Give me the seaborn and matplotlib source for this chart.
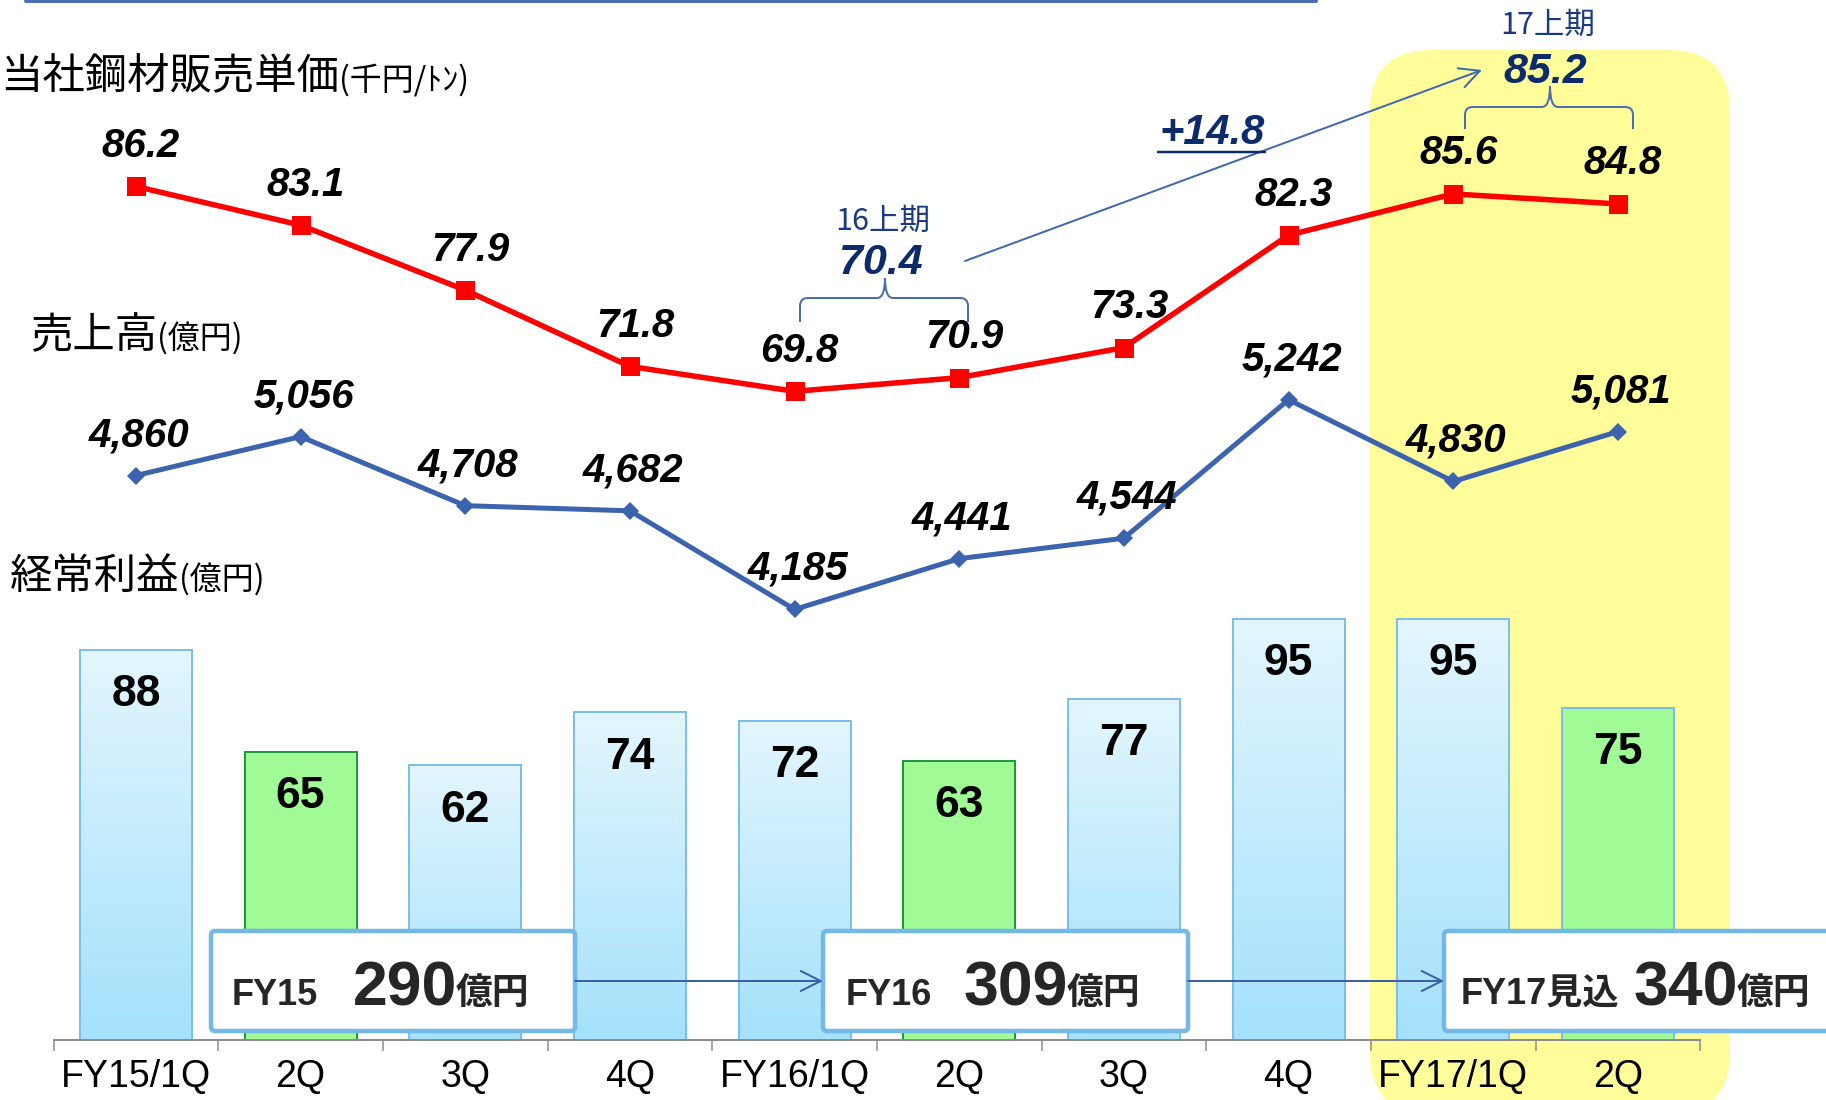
import numpy as np
import pandas as pd
import matplotlib
matplotlib.use("Agg")
import matplotlib.pyplot as plt
import seaborn as sns
from matplotlib.colors import LinearSegmentedColormap
from matplotlib.lines import Line2D
from matplotlib.patches import FancyBboxPatch, PathPatch
from matplotlib.path import Path
from matplotlib.transforms import Affine2D

# ---------------- data ----------------
quarter_labels = ["FY15/1Q", "2Q", "3Q", "4Q", "FY16/1Q", "2Q", "3Q", "4Q", "FY17/1Q", "2Q"]
steel_price = [86.2, 83.1, 77.9, 71.8, 69.8, 70.9, 73.3, 82.3, 85.6, 84.8]    # 千円/ﾄﾝ
net_sales = [4860, 5056, 4708, 4682, 4185, 4441, 4544, 5242, 4830, 5081]      # 億円
ordinary_profit = [88, 65, 62, 74, 72, 63, 77, 95, 95, 75]                   # 億円
half_year_names = ["16上期", "17上期"]
half_year_price = [70.4, 85.2]
fy_names = ["FY15", "FY16", "FY17見込"]
fy_profit = [290, 309, 340]

W, H = 1826, 1100
sns.set_theme(style="white")
plt.rcParams["font.family"] = ["Liberation Sans", "Noto Sans CJK JP", "DejaVu Sans"]
CJK = ["Noto Sans CJK JP", "Liberation Sans", "DejaVu Sans"]


def pt(p):
    """pixels -> points at 100 dpi"""
    return p * 0.72


fig = plt.figure(figsize=(W / 100, H / 100), dpi=100)
fig.patch.set_facecolor("white")
# pixel coordinates, origin at the top-left corner of the figure
px = Affine2D().scale(1 / W, -1 / H).translate(0, 1) + fig.transFigure

ax = fig.add_axes([53.6 / W, 60 / H, (1700.2 - 53.6) / W, 1040 / H])
ax.set_facecolor("none")

df = pd.DataFrame({
    "pos": np.arange(len(quarter_labels)),
    "key": [f"k{i}" for i in range(len(quarter_labels))],
    "quarter": quarter_labels,
    "price": steel_price,
    "sales": net_sales,
    "profit": ordinary_profit,
})

GREEN = "#A0FA96"
SKY = "#C8EDFC"
forecast_start = 8
is_green = [q == "2Q" for q in quarter_labels]
palette = {k: (GREEN if g else SKY) for k, g in zip(df["key"], is_green)}

# highlighted current fiscal year
ax.add_patch(FancyBboxPatch((1370, 50), 360, 1064,
                            boxstyle="round,pad=0,rounding_size=62",
                            transform=px, fc="#FFFD9A", ec="none",
                            zorder=0, clip_on=False))

# ---------------- ordinary profit bars ----------------
sns.barplot(data=df, x="pos", y="profit", hue="key", palette=palette,
            native_scale=True, dodge=False, legend=False, width=0.68,
            saturation=1, ax=ax, zorder=2)

bars = sorted([p for p in ax.patches if hasattr(p, "get_width") and p.get_height() > 0
               and p.get_width() < 1], key=lambda p: p.get_x())
grad_cmap = LinearSegmentedColormap.from_list("sky", ["#A4E1FB", "#E3F6FE"])
for i, bar in enumerate(bars):
    bar.set_linewidth(pt(2))
    if is_green[i]:
        bar.set_edgecolor("#7CBDE6" if i >= forecast_start else "#1E9A3D")
    else:
        bar.set_edgecolor("#7CC0EA")
        bar.set_facecolor("none")
        x0, y0 = bar.get_x(), bar.get_y()
        im = ax.imshow(np.linspace(0, 1, 256).reshape(-1, 1),
                       extent=[x0, x0 + bar.get_width(), y0, y0 + bar.get_height()],
                       origin="lower", aspect="auto", cmap=grad_cmap,
                       interpolation="bicubic", zorder=1.9)
        im.set_clip_path(bar)

for i, v in enumerate(ordinary_profit):
    ax.annotate(f"{v}", xy=(i, v), xytext=(0, -pt(45)), textcoords="offset points",
                ha="center", va="center", fontsize=32, fontweight="bold",
                color="black", zorder=6)

ax.set_aspect("auto")
ax.set_ylim(0, 1040 / 4.432)
ax.set_xlim(-0.5, 9.5)
ax.set_xticks(range(len(quarter_labels)))
ax.set_xticklabels(quarter_labels, fontsize=27)
ax.set_xticks(np.arange(-0.5, len(quarter_labels)), minor=True)
ax.tick_params(axis="x", which="major", bottom=True, length=0, pad=14, colors="black")
ax.tick_params(axis="x", which="minor", bottom=True, length=pt(11), width=pt(1.5),
               color="#8C8C8C", direction="out")
ax.set_yticks([])
for s in ("left", "right", "top"):
    ax.spines[s].set_visible(False)
ax.spines["bottom"].set_color("#8C8C8C")
ax.spines["bottom"].set_linewidth(pt(2))
ax.set_xlabel("")
ax.set_ylabel("")

# ---------------- sales & price lines ----------------
ax_sales = ax.twinx()
sns.lineplot(data=df, x="pos", y="sales", ax=ax_sales, color="#3B63AE",
             lw=pt(5), marker="D", markersize=pt(13), markeredgewidth=0, sort=False)
ax_sales.set_ylim(2015.2, 7256.3)

ax_price = ax.twinx()
sns.lineplot(data=df, x="pos", y="price", ax=ax_price, color="#FF0000",
             lw=pt(5.5), marker="s", markersize=pt(19), markeredgewidth=0, sort=False)
ax_price.set_ylim(17.89, 101.12)

for a in (ax_sales, ax_price):
    a.set_xlim(-0.5, 9.5)
    a.axis("off")

for i, v in enumerate(steel_price):
    ax_price.annotate(f"{v:.1f}", xy=(i, v), xytext=(pt(5), pt(40.5)),
                      textcoords="offset points", ha="center", va="center",
                      fontsize=29, fontweight="bold", fontstyle="italic", color="black")
for i, v in enumerate(net_sales):
    ax_sales.annotate(f"{v:,}", xy=(i, v), xytext=(pt(3), pt(40.5)),
                      textcoords="offset points", ha="center", va="center",
                      fontsize=29, fontweight="bold", fontstyle="italic", color="black")

# ---------------- fiscal-year totals ----------------
box_spans = [(211, 575), (823, 1188), (1444, 1860)]
name_x = [232, 846, 1461]
num_x = [353, 964, 1634]
for (bx0, bx1), nm, tot, nx, vx in zip(box_spans, fy_names, fy_profit, name_x, num_x):
    ax.add_patch(FancyBboxPatch((bx0, 931), bx1 - bx0, 100,
                                boxstyle="round,pad=0,rounding_size=4", transform=px,
                                fc="white", ec="#74B8E6", lw=pt(4.5), zorder=5,
                                clip_on=False))
    fig.text(nx, 1005, nm, transform=px, ha="left", va="baseline",
             fontsize=26, fontweight="bold", zorder=6)
    t = fig.text(vx, 1005, f"{tot}", transform=px, ha="left", va="baseline",
                 fontsize=45, fontweight="bold", zorder=6)
    ax.annotate("億円", xy=(1, 1005), xycoords=(t, px), xytext=(-pt(2), 0),
                textcoords="offset points", ha="left", va="baseline",
                fontsize=26.5, fontweight="bold", family=CJK,
                annotation_clip=False, zorder=6)

arrow_kw = dict(arrowstyle="->,head_length=1.2,head_width=0.6", color="#3D5FA8",
                lw=pt(2), shrinkA=0, shrinkB=0)
for (a0, a1) in [(box_spans[0][1], box_spans[1][0]), (box_spans[1][1], box_spans[2][0])]:
    ax.annotate("", xy=(a1, 981), xytext=(a0, 981), xycoords=px, textcoords=px,
                arrowprops=arrow_kw, annotation_clip=False, zorder=6)

# ---------------- half-year average price annotations ----------------
NAVY = "#0B2B6B"
LABEL_BLUE = "#1B3A86"
BRACE_BLUE = "#4B6CB0"


def brace(x0, x1, xm, yh, yleg, ytip, r=8):
    verts = [(x0, yleg), (x0, yh + r), (x0, yh), (x0 + r, yh), (xm - r, yh), (xm, yh), (xm, ytip),
             (xm, ytip), (xm, yh), (xm + r, yh), (x1 - r, yh), (x1, yh), (x1, yh + r), (x1, yleg)]
    codes = [Path.MOVETO, Path.LINETO, Path.CURVE3, Path.CURVE3, Path.LINETO, Path.CURVE3, Path.CURVE3,
             Path.MOVETO, Path.CURVE3, Path.CURVE3, Path.LINETO, Path.CURVE3, Path.CURVE3, Path.LINETO]
    fig.add_artist(PathPatch(Path(verts, codes), transform=px, fill=False,
                             ec=BRACE_BLUE, lw=pt(2)))


brace(800, 968, 885, 298, 322, 278)
brace(1465, 1633, 1550, 107, 129, 86)

fig.text(883, 221, half_year_names[0], transform=px, ha="center", va="center",
         fontsize=22, color=LABEL_BLUE, family=CJK)
fig.text(881, 263, f"{half_year_price[0]:.1f}", transform=px, ha="center", va="center",
         fontsize=31, fontweight="bold", fontstyle="italic", color=NAVY)
fig.text(1548, 25, half_year_names[1], transform=px, ha="center", va="center",
         fontsize=22, color=LABEL_BLUE, family=CJK)
fig.text(1545, 72, f"{half_year_price[1]:.1f}", transform=px, ha="center", va="center",
         fontsize=31, fontweight="bold", fontstyle="italic", color=NAVY)

ax.annotate("", xy=(1482, 70), xytext=(965, 261), xycoords=px, textcoords=px,
            arrowprops=dict(arrowstyle="->,head_length=1.2,head_width=0.6",
                            color="#4169B0", lw=pt(2), shrinkA=0, shrinkB=0),
            annotation_clip=False)
change = half_year_price[1] - half_year_price[0]
fig.text(1212, 133, f"{change:+.1f}", transform=px, ha="center", va="center",
         fontsize=30, fontweight="bold", fontstyle="italic", color=NAVY)
fig.add_artist(Line2D([1158, 1265], [152, 152], transform=px, color=NAVY, lw=pt(2.5)))

# ---------------- headings ----------------
fig.add_artist(Line2D([26, 1316], [1, 1], transform=px, color="#4A6FB5", lw=pt(4)))


def heading(x, y, big, small):
    t = fig.text(x, y, big, transform=px, ha="left", va="baseline",
                 fontsize=30.5, family=CJK, color="black")
    ax.annotate(small, xy=(1, y), xycoords=(t, px), ha="left", va="baseline",
                fontsize=23, family=CJK, color="black", annotation_clip=False)


heading(0, 89, "当社鋼材販売単価", "(千円/ﾄﾝ)")
heading(30, 348, "売上高", "(億円)")
heading(10, 589, "経常利益", "(億円)")

fig.savefig("out.png", dpi=100, facecolor="white")
